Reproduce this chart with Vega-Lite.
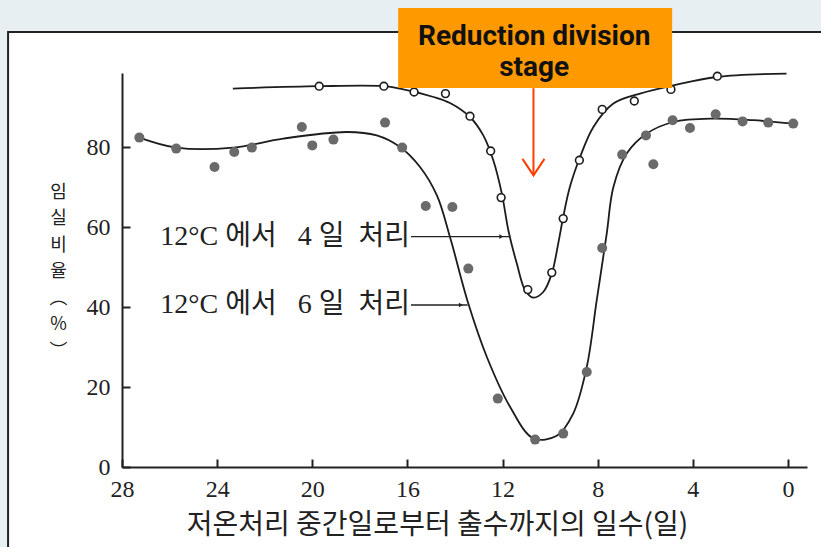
{
  "$schema": "https://vega.github.io/schema/vega-lite/v6.json",
  "width": 685,
  "height": 394,
  "autosize": {"type": "none"},
  "padding": {"left": 122, "top": 73, "right": 14, "bottom": 80},
  "background": "#E8EFF3",
  "config": {
    "view": {"stroke": null},
    "axis": {
      "grid": false,
      "domainColor": "#222222", "domainWidth": 2,
      "tickColor": "#222222", "tickWidth": 2, "tickSize": -8,
      "labelFont": "Liberation Serif", "labelFontSize": 24, "labelColor": "#222222",
      "labelFlush": false, "labelOverlap": false,
      "titleFont": "Noto Sans CJK KR", "titleFontWeight": "normal", "titleColor": "#222222"
    },
    "axisX": {"labelPadding": 18},
    "axisY": {"labelPadding": 20}
  },
  "datasets": {
    "open4": [
      {"day": 19.71, "rate": 95.2}, {"day": 16.99, "rate": 95.2}, {"day": 15.72, "rate": 93.75},
      {"day": 14.4, "rate": 93.35}, {"day": 13.37, "rate": 87.7}, {"day": 12.5, "rate": 79.0},
      {"day": 12.06, "rate": 67.35}, {"day": 10.94, "rate": 44.35}, {"day": 9.93, "rate": 48.6},
      {"day": 9.45, "rate": 62.1}, {"day": 8.77, "rate": 76.7}, {"day": 7.81, "rate": 89.4},
      {"day": 6.46, "rate": 91.5}, {"day": 4.92, "rate": 94.4}, {"day": 2.97, "rate": 97.7}
    ],
    "filled6": [
      {"day": 27.27, "rate": 82.35}, {"day": 25.72, "rate": 79.6}, {"day": 24.11, "rate": 75.0},
      {"day": 23.28, "rate": 78.75}, {"day": 22.54, "rate": 79.85}, {"day": 20.44, "rate": 85.0},
      {"day": 20.0, "rate": 80.4}, {"day": 19.11, "rate": 81.85}, {"day": 16.94, "rate": 86.1},
      {"day": 16.22, "rate": 79.85}, {"day": 15.23, "rate": 65.25}, {"day": 14.11, "rate": 65.0},
      {"day": 13.44, "rate": 49.6}, {"day": 12.2, "rate": 17.1}, {"day": 10.63, "rate": 6.85},
      {"day": 9.45, "rate": 8.35}, {"day": 8.46, "rate": 23.75}, {"day": 7.81, "rate": 54.75},
      {"day": 6.97, "rate": 78.1}, {"day": 5.97, "rate": 82.9}, {"day": 5.66, "rate": 75.7},
      {"day": 4.85, "rate": 86.7}, {"day": 4.12, "rate": 84.75}, {"day": 3.04, "rate": 88.2},
      {"day": 1.91, "rate": 86.4}, {"day": 0.83, "rate": 86.1}, {"day": -0.22, "rate": 85.85}
    ],
    "curves": [
      {"series": "4일", "day": 23.34, "rate": 94.6}, {"series": "4일", "day": 19.71, "rate": 95.2},
      {"series": "4일", "day": 16.99, "rate": 95.2}, {"series": "4일", "day": 16.31, "rate": 94.6},
      {"series": "4일", "day": 14.9, "rate": 92.5}, {"series": "4일", "day": 14.21, "rate": 91.0},
      {"series": "4일", "day": 13.37, "rate": 87.5}, {"series": "4일", "day": 12.81, "rate": 82.9},
      {"series": "4일", "day": 12.39, "rate": 76.7}, {"series": "4일", "day": 12.03, "rate": 68.35},
      {"series": "4일", "day": 11.75, "rate": 59.0}, {"series": "4일", "day": 11.4, "rate": 50.85},
      {"series": "4일", "day": 11.05, "rate": 44.2}, {"series": "4일", "day": 10.71, "rate": 42.35},
      {"series": "4일", "day": 10.29, "rate": 43.75}, {"series": "4일", "day": 9.93, "rate": 48.35},
      {"series": "4일", "day": 9.66, "rate": 55.85}, {"series": "4일", "day": 9.45, "rate": 62.5},
      {"series": "4일", "day": 9.17, "rate": 70.0}, {"series": "4일", "day": 8.74, "rate": 77.5},
      {"series": "4일", "day": 8.18, "rate": 85.0}, {"series": "4일", "day": 7.34, "rate": 90.85},
      {"series": "4일", "day": 6.22, "rate": 93.35}, {"series": "4일", "day": 4.82, "rate": 95.4},
      {"series": "4일", "day": 3.0, "rate": 97.5}, {"series": "4일", "day": 0.06, "rate": 98.35},
      {"series": "6일", "day": 27.27, "rate": 82.35}, {"series": "6일", "day": 25.72, "rate": 79.85},
      {"series": "6일", "day": 23.32, "rate": 79.85}, {"series": "6일", "day": 21.22, "rate": 82.1},
      {"series": "6일", "day": 18.55, "rate": 83.75}, {"series": "6일", "day": 17.29, "rate": 82.9},
      {"series": "6일", "day": 16.31, "rate": 80.0}, {"series": "6일", "day": 15.47, "rate": 75.0},
      {"series": "6일", "day": 14.76, "rate": 67.9}, {"series": "6일", "day": 14.21, "rate": 57.5},
      {"series": "6일", "day": 13.44, "rate": 40.85}, {"series": "6일", "day": 12.66, "rate": 27.5},
      {"series": "6일", "day": 11.68, "rate": 15.0}, {"series": "6일", "day": 10.71, "rate": 7.2},
      {"series": "6일", "day": 9.72, "rate": 7.8}, {"series": "6일", "day": 9.03, "rate": 13.35},
      {"series": "6일", "day": 8.46, "rate": 25.0}, {"series": "6일", "day": 8.04, "rate": 41.7},
      {"series": "6일", "day": 7.62, "rate": 58.35}, {"series": "6일", "day": 7.34, "rate": 70.0},
      {"series": "6일", "day": 6.78, "rate": 78.35}, {"series": "6일", "day": 5.94, "rate": 83.35},
      {"series": "6일", "day": 4.82, "rate": 86.25}, {"series": "6일", "day": 3.14, "rate": 87.1},
      {"series": "6일", "day": 1.46, "rate": 86.7}, {"series": "6일", "day": -0.22, "rate": 85.85}
    ]
  },
  "layer": [
    {
      "data": {"values": [{}]},
      "mark": {"type": "rect", "fill": "white", "stroke": "#222222", "strokeWidth": 2},
      "encoding": {
        "x": {"datum": 32.79, "type": "quantitative",
              "scale": {"domain": [-0.8, 28], "reverse": true, "nice": false, "zero": false}},
        "x2": {"datum": -2},
        "y": {"datum": 108.75, "type": "quantitative",
              "scale": {"domain": [0, 98.5], "nice": false, "zero": false}},
        "y2": {"datum": -25}
      }
    },
    {
      "data": {"name": "curves"},
      "mark": {"type": "line", "interpolate": "catmull-rom", "stroke": "#1c1c1c", "strokeWidth": 1.8},
      "encoding": {
        "x": {"field": "day", "type": "quantitative",
              "scale": {"domain": [-0.8, 28], "reverse": true, "nice": false, "zero": false},
              "axis": {
                "zindex": 1,
                "values": [28, 24, 20, 16, 12, 8, 4, 0],
                "title": "저온처리 중간일로부터 출수까지의 일수(일)",
                "titleFontSize": 28, "titleX": 315, "titleY": 58,
                "titleAlign": "center", "titleBaseline": "middle"
              }},
        "y": {"field": "rate", "type": "quantitative",
              "scale": {"domain": [0, 98.5], "nice": false, "zero": false},
              "axis": {
                "zindex": 1,
                "values": [0, 20, 40, 60, 80],
                "title": ["임", "실", "비", "율", "︵", "%", "︶"],
                "titleFontSize": 18, "titleAngle": 0, "titleLineHeight": 26.5,
                "titleX": -64, "titleY": 110, "titleAlign": "center", "titleBaseline": "top"
              }},
        "detail": {"field": "series"}
      }
    },
    {
      "data": {"name": "filled6"},
      "mark": {"type": "point", "shape": "circle", "filled": true, "fill": "#6a6a6a", "opacity": 1, "size": 100},
      "encoding": {
        "x": {"field": "day", "type": "quantitative",
              "scale": {"domain": [-0.8, 28], "reverse": true, "nice": false, "zero": false}},
        "y": {"field": "rate", "type": "quantitative",
              "scale": {"domain": [0, 98.5], "nice": false, "zero": false}}
      }
    },
    {
      "data": {"name": "open4"},
      "mark": {"type": "point", "shape": "circle", "filled": true, "fill": "white", "stroke": "#1c1c1c", "strokeWidth": 1.6, "opacity": 1, "size": 60},
      "encoding": {
        "x": {"field": "day", "type": "quantitative",
              "scale": {"domain": [-0.8, 28], "reverse": true, "nice": false, "zero": false}},
        "y": {"field": "rate", "type": "quantitative",
              "scale": {"domain": [0, 98.5], "nice": false, "zero": false}}
      }
    },
    {
      "data": {"values": [{}]},
      "mark": {"type": "text", "text": "12°C\u00a0에서\u00a0\u00a0\u00a04\u00a0일\u00a0\u00a0처리", "font": "Liberation Serif, Noto Sans CJK KR", "fontSize": 28, "fill": "#222222", "align": "right", "baseline": "middle"},
      "encoding": {
        "x": {"datum": 15.89, "type": "quantitative"},
        "y": {"datum": 57.6, "type": "quantitative"}
      }
    },
    {
      "data": {"values": [{}]},
      "mark": {"type": "text", "text": "12°C\u00a0에서\u00a0\u00a0\u00a06\u00a0일\u00a0\u00a0처리", "font": "Liberation Serif, Noto Sans CJK KR", "fontSize": 28, "fill": "#222222", "align": "right", "baseline": "middle"},
      "encoding": {
        "x": {"datum": 15.89, "type": "quantitative"},
        "y": {"datum": 40.5, "type": "quantitative"}
      }
    },
    {
      "data": {"values": [{}]},
      "mark": {"type": "rule", "stroke": "#222222", "strokeWidth": 1.4},
      "encoding": {
        "x": {"datum": 15.85, "type": "quantitative"},
        "x2": {"datum": 11.72},
        "y": {"datum": 57.6, "type": "quantitative"}
      }
    },
    {
      "data": {"values": [{}]},
      "mark": {"type": "rule", "stroke": "#222222", "strokeWidth": 1.4},
      "encoding": {
        "x": {"datum": 15.85, "type": "quantitative"},
        "x2": {"datum": 13.47},
        "y": {"datum": 40.5, "type": "quantitative"}
      }
    },
    {
      "data": {"values": [{}]},
      "mark": {"type": "point", "shape": "triangle-right", "filled": true, "fill": "#222222", "opacity": 1, "size": 22},
      "encoding": {
        "x": {"datum": 12.05, "type": "quantitative"},
        "y": {"datum": 57.6, "type": "quantitative"}
      }
    },
    {
      "data": {"values": [{}]},
      "mark": {"type": "point", "shape": "triangle-right", "filled": true, "fill": "#222222", "opacity": 1, "size": 22},
      "encoding": {
        "x": {"datum": 13.75, "type": "quantitative"},
        "y": {"datum": 40.5, "type": "quantitative"}
      }
    },
    {
      "data": {"values": [{}]},
      "mark": {"type": "rect", "fill": "#FF9900"},
      "encoding": {
        "x": {"datum": 16.39, "type": "quantitative"},
        "x2": {"datum": 4.87},
        "y": {"datum": 114.75, "type": "quantitative"},
        "y2": {"datum": 94.75}
      }
    },
    {
      "data": {"values": [{}]},
      "mark": {"type": "text", "text": "Reduction division", "font": "Roboto", "fontWeight": "bold", "fontSize": 28, "fill": "#111111", "align": "center", "baseline": "middle"},
      "encoding": {
        "x": {"datum": 10.67, "type": "quantitative"},
        "y": {"datum": 107.6, "type": "quantitative"}
      }
    },
    {
      "data": {"values": [{}]},
      "mark": {"type": "text", "text": "stage", "font": "Roboto", "fontWeight": "bold", "fontSize": 28, "fill": "#111111", "align": "center", "baseline": "middle"},
      "encoding": {
        "x": {"datum": 10.67, "type": "quantitative"},
        "y": {"datum": 99.8, "type": "quantitative"}
      }
    },
    {
      "data": {"values": [{}]},
      "mark": {"type": "rule", "stroke": "#FF3D00", "strokeWidth": 2},
      "encoding": {
        "x": {"datum": 10.7, "type": "quantitative"},
        "y": {"datum": 94.7, "type": "quantitative"},
        "y2": {"datum": 73.2}
      }
    },
    {
      "data": {"values": [{}]},
      "mark": {"type": "point", "shape": "M -1 -1.5 L 0 0 L 1 -1.5", "filled": false, "stroke": "#FF3D00", "strokeWidth": 2, "opacity": 1, "size": 484},
      "encoding": {
        "x": {"datum": 10.7, "type": "quantitative"},
        "y": {"datum": 72.9, "type": "quantitative"}
      }
    }
  ]
}
